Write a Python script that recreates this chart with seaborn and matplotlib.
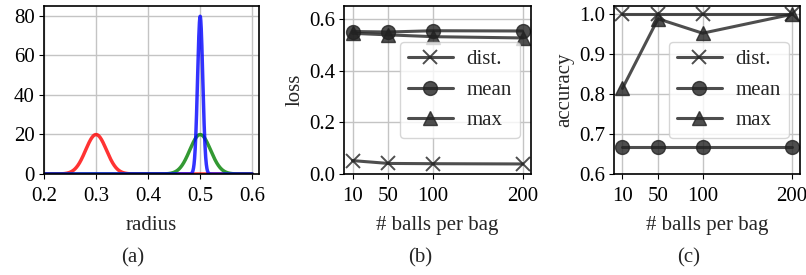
import numpy as np
import pandas as pd
import matplotlib.pyplot as plt
import seaborn as sns

# ==========================================
# DATA
# ==========================================

# (a) radius distributions: normal densities (mean, std)
radius_means = [0.3, 0.5, 0.5]
radius_stds = [0.02, 0.02, 0.005]
radius_colors = ["red", "green", "blue"]

# (b), (c) number of balls per bag
balls = [10, 50, 100, 200]

loss_dist = [0.052, 0.041, 0.040, 0.039]
loss_mean = [0.553, 0.551, 0.556, 0.555]
loss_max = [0.546, 0.540, 0.533, 0.528]

acc_dist = [1.0, 1.0, 1.0, 1.0]
acc_mean = [0.667, 0.667, 0.667, 0.667]
acc_max = [0.814, 0.988, 0.952, 0.999]

method_names = ["dist.", "mean", "max"]
method_markers = ["x", "o", "^"]

# ==========================================
# STYLE
# ==========================================

sns.set_style("ticks", {"axes.grid": True, "grid.color": "#c4c4c4"})
plt.rcParams["font.family"] = ["Liberation Serif", "DejaVu Serif"]
plt.rcParams["font.size"] = 15
plt.rcParams["axes.edgecolor"] = "black"
plt.rcParams["axes.linewidth"] = 1.2
plt.rcParams["xtick.color"] = "black"
plt.rcParams["ytick.color"] = "black"
plt.rcParams["xtick.direction"] = "out"
plt.rcParams["ytick.direction"] = "out"
plt.rcParams["xtick.major.pad"] = 6
plt.rcParams["ytick.major.pad"] = 3
plt.rcParams["axes.labelpad"] = 3

W, H = 806, 275
fig = plt.figure(figsize=(W / 100, H / 100), dpi=100)

def add_ax(left, right, top=6, bottom=174):
    return fig.add_axes([left / W, (H - bottom) / H, (right - left) / W, (bottom - top) / H])

ax_a = add_ax(44, 259)
ax_b = add_ax(344, 531)
ax_c = add_ax(614, 800)

# ==========================================
# (a) RADIUS DENSITIES
# ==========================================

x_grid = np.linspace(0.2, 0.6, 2001)
for mu, sd, col in zip(radius_means, radius_stds, radius_colors):
    dens = np.exp(-0.5 * ((x_grid - mu) / sd) ** 2) / (sd * np.sqrt(2 * np.pi))
    sns.lineplot(x=x_grid, y=dens, color=col, alpha=0.8, linewidth=2.5, ax=ax_a)

ax_a.set_xlim(0.2, 0.613)
ax_a.set_ylim(0, 85)
ax_a.set_xticks([0.2, 0.3, 0.4, 0.5, 0.6])
ax_a.set_yticks([0, 20, 40, 60, 80])
ax_a.set_xlabel("radius", labelpad=7)
ax_a.set_ylabel("")

# ==========================================
# (b) LOSS AND (c) ACCURACY
# ==========================================

def draw_methods(ax, series):
    for vals, name, mk in zip(series, method_names, method_markers):
        sns.lineplot(
            x=balls, y=vals, ax=ax,
            color="#222222", alpha=0.8, linewidth=2.2,
            marker=mk, markersize=10, markeredgewidth=1.4 if mk == "x" else 1,
            markeredgecolor="#222222", label=name,
        )
    ax.set_xticks(balls)
    ax.set_xlim(0.5, 209.5)
    ax.set_xlabel("# balls per bag", labelpad=7)
    ax.legend(loc="center right", fontsize=15, handlelength=2.15,
              borderaxespad=0.55, labelspacing=0.52, borderpad=0.38,
              handletextpad=0.65)

draw_methods(ax_b, [loss_dist, loss_mean, loss_max])
ax_b.set_ylim(0, 0.652)
ax_b.set_yticks([0.0, 0.2, 0.4, 0.6])
ax_b.set_ylabel("loss")

draw_methods(ax_c, [acc_dist, acc_mean, acc_max])
ax_c.set_ylim(0.6, 1.02)
ax_c.set_yticks([0.6, 0.7, 0.8, 0.9, 1.0])
ax_c.set_ylabel("accuracy")

for ax in [ax_a, ax_b, ax_c]:
    ax.grid(True, color="#c4c4c4", linewidth=1)
    for sp in ax.spines.values():
        sp.set_visible(True)
        sp.set_color("black")

# subplot captions
for xp, cap in zip([133, 420, 689], ["(a)", "(b)", "(c)"]):
    fig.text(xp / W, 1 - 258 / H, cap, ha="center", va="center", fontsize=15)

fig.savefig("out.png", dpi=100)
